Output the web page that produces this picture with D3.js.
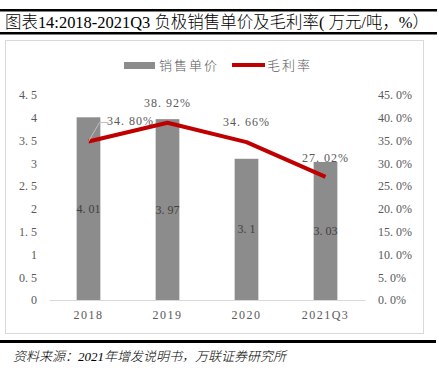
<!DOCTYPE html>
<html>
<head>
<meta charset="utf-8">
<script src="https://cdn.jsdelivr.net/npm/d3@7"></script>
<style>
  body { margin: 0; background: #fff; }
  svg { display: block; }
  text { font-family: "Liberation Serif", "Noto Sans CJK SC", serif; }
</style>
</head>
<body>
<script>
// data
var categories = ["2018", "2019", "2020", "2021Q3"];
var prices = [4.01, 3.97, 3.1, 3.03];           // 万元/吨
var margins = [34.80, 38.92, 34.66, 27.02];     // %
var leftTicks = [0, 0.5, 1, 1.5, 2, 2.5, 3, 3.5, 4, 4.5];
var rightTicks = [0, 5, 10, 15, 20, 25, 30, 35, 40, 45];

var W = 439, H = 374;
var margin = {left: 49, right: 74, top: 95, bottom: 74};

var svg = d3.select("body").append("svg")
  .attr("width", W)
  .attr("height", H);

// title block
svg.append("rect").attr("x", 0).attr("y", 9).attr("width", 437).attr("height", 2.5).attr("fill", "#000");
svg.append("rect").attr("x", 0).attr("y", 32).attr("width", 437).attr("height", 2.5).attr("fill", "#000");
svg.append("text")
  .attr("x", 5).attr("y", 27.5)
  .attr("font-size", 16.5)
  .attr("font-weight", 300)
  .attr("fill", "#000")
  .attr("textLength", 424)
  .attr("lengthAdjust", "spacingAndGlyphs")
  .text("图表14:2018-2021Q3 负极销售单价及毛利率( 万元/吨，%）");

// chart frame
svg.append("rect")
  .attr("x", 5.5).attr("y", 40.5).attr("width", 418).attr("height", 293)
  .attr("fill", "none").attr("stroke", "#d9d9d9");

// bottom rule + source
svg.append("rect").attr("x", 0).attr("y", 340).attr("width", 436).attr("height", 3).attr("fill", "#000");
svg.append("text")
  .attr("x", 13).attr("y", 361)
  .attr("font-size", 13)
  .attr("font-style", "italic")
  .attr("font-weight", 300)
  .attr("fill", "#000")
  .text("资料来源：2021年增发说明书，万联证券研究所");

var x0 = margin.left, x1 = W - margin.right;
var y0 = H - margin.bottom, y1 = margin.top;

var x = d3.scaleBand().domain(categories).range([x0, x1]).paddingInner(0.7).paddingOuter(0.35);
var yL = d3.scaleLinear().domain([0, 4.5]).range([y0, y1]);
var yR = d3.scaleLinear().domain([0, 45]).range([y0, y1]);

var fmt1 = d3.format(".1f");

// left axis
var leftAxis = svg.append("g")
  .attr("transform", "translate(" + (x0 - 12) + ",0)")
  .call(d3.axisLeft(yL).tickValues(leftTicks).tickSize(0).tickPadding(0)
    .tickFormat(function(d) { return d % 1 === 0 ? String(d) : String(d).replace(".", ". "); }));
leftAxis.select(".domain").remove();
leftAxis.selectAll("text").attr("font-size", 12).attr("fill", "#595959")
  .attr("font-family", "Liberation Serif, serif");

// right axis
var rightAxis = svg.append("g")
  .attr("transform", "translate(" + (x1 + 13) + ",0)")
  .call(d3.axisRight(yR).tickValues(rightTicks).tickSize(0).tickPadding(0)
    .tickFormat(function(d) { return fmt1(d).replace(".", ". ") + "%"; }));
rightAxis.select(".domain").remove();
rightAxis.selectAll("text").attr("font-size", 12).attr("fill", "#595959");

// bars
svg.selectAll("rect.bar")
  .data(prices)
  .enter().append("rect")
    .attr("class", "bar")
    .attr("x", function(d, i) { return x(categories[i]); })
    .attr("width", x.bandwidth())
    .attr("y", function(d) { return yL(d); })
    .attr("height", function(d) { return y0 - yL(d); })
    .attr("fill", "#8c8c8c");

// x axis
var xAxis = svg.append("g")
  .attr("transform", "translate(0," + y0 + ")")
  .call(d3.axisBottom(x).tickSize(0).tickPadding(10));
xAxis.select(".domain").attr("stroke", "#d9d9d9");
xAxis.selectAll("text").attr("font-size", 12).attr("fill", "#595959").attr("letter-spacing", 1.5);

// bar value labels
svg.selectAll("text.barlab")
  .data(prices)
  .enter().append("text")
    .attr("class", "barlab")
    .attr("x", function(d, i) { return x(categories[i]) + x.bandwidth() / 2; })
    .attr("y", function(d) { return (yL(d) + y0) / 2 + 4; })
    .attr("text-anchor", "middle")
    .attr("font-size", 12)
    .attr("fill", "#404040")
    .text(function(d) { return String(d).replace(".", ". "); });

// margin line
var cx = function(i) { return x(categories[i]) + x.bandwidth() / 2; };
var line = d3.line()
  .x(function(d, i) { return cx(i); })
  .y(function(d) { return yR(d); });

svg.append("path")
  .datum(margins)
  .attr("d", line)
  .attr("fill", "none")
  .attr("stroke", "#c00000")
  .attr("stroke-width", 4)
  .attr("stroke-linejoin", "round");

// line labels
var labOffsets = [
  {dx: 42, dy: -16},
  {dx: 0, dy: -16},
  {dx: 0, dy: -16},
  {dx: 0, dy: -15}
];
svg.selectAll("text.linelab")
  .data(margins)
  .enter().append("text")
    .attr("class", "linelab")
    .attr("x", function(d, i) { return cx(i) + labOffsets[i].dx; })
    .attr("y", function(d, i) { return yR(d) + labOffsets[i].dy; })
    .attr("text-anchor", "middle")
    .attr("font-size", 12)
    .attr("fill", "#595959")
    .attr("letter-spacing", 1)
    .text(function(d) { return d.toFixed(2).replace(".", ". ") + "%"; });

// leader line for first label
svg.append("path")
  .attr("d", "M" + cx(0) + "," + yR(margins[0]) + "L" + (cx(0) + 11) + "," + (yR(margins[0]) - 19) + "h9")
  .attr("fill", "none")
  .attr("stroke", "#bfbfbf")
  .attr("stroke-width", 1);

// legend
var lg = svg.append("g");
lg.append("rect").attr("x", 124).attr("y", 62).attr("width", 31).attr("height", 7).attr("fill", "#8c8c8c");
lg.append("text").attr("x", 159).attr("y", 70).attr("font-size", 13).attr("fill", "#595959")
  .attr("font-weight", 300).attr("letter-spacing", 2).text("销售单价");
lg.append("line").attr("x1", 232).attr("x2", 265).attr("y1", 65).attr("y2", 65)
  .attr("stroke", "#c00000").attr("stroke-width", 4);
lg.append("text").attr("x", 267).attr("y", 70).attr("font-size", 13).attr("fill", "#595959")
  .attr("font-weight", 300).attr("letter-spacing", 2).text("毛利率");
</script>
</body>
</html>
